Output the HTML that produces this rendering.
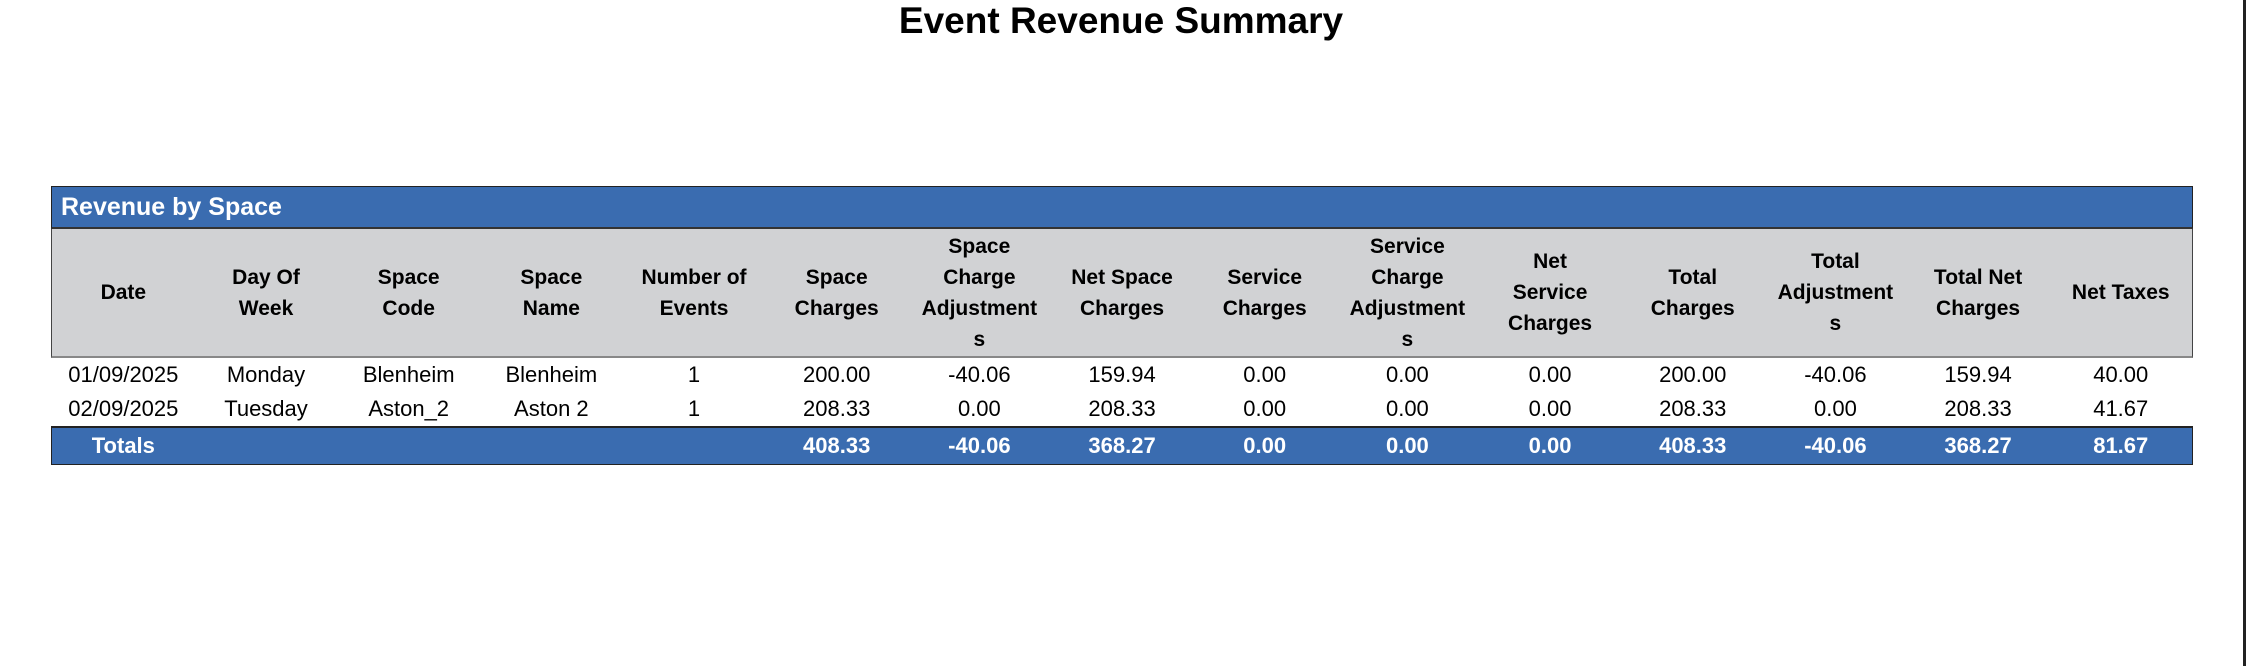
<!DOCTYPE html>
<html><head><meta charset="utf-8"><style>
body{margin:0;width:2246px;height:666px;background:#fff;position:relative;overflow:hidden;font-family:"Liberation Sans",Arial,sans-serif;}
.title{position:absolute;left:0;width:2242px;top:0px;text-align:center;font-weight:bold;font-size:37px;color:#000;}
.vl{position:absolute;left:2243px;top:0;width:3px;height:666px;background:#222;}
.tbl{position:absolute;left:51px;top:186px;width:2142px;}
.band{background:#3a6cb0;color:#fff;font-weight:bold;font-size:25px;height:40px;line-height:40px;padding-left:9px;border:1px solid #222;border-bottom:2px solid #333;}
.row{display:flex;}
.row div{flex:1;text-align:center;}
.hdr{background:#d1d2d4;height:127px;align-items:center;font-weight:bold;font-size:21px;line-height:31px;border-left:1px solid #444;border-right:1px solid #444;border-bottom:2px solid #888;}
.d{height:34px;line-height:34px;font-size:22px;padding:0 1px;}
.tot{background:#3a6cb0;color:#fff;font-weight:bold;font-size:22px;height:36px;line-height:36px;border:1px solid #222;border-top:2px solid #222;}
</style></head><body>
<div class="title">Event Revenue Summary</div>
<div class="vl"></div>
<div class="tbl">
<div class="band">Revenue by Space</div>
<div class="row hdr">
<div>Date</div><div>Day Of<br>Week</div><div>Space<br>Code</div><div>Space<br>Name</div><div>Number of<br>Events</div><div>Space<br>Charges</div><div>Space<br>Charge<br>Adjustment<br>s</div><div>Net Space<br>Charges</div><div>Service<br>Charges</div><div>Service<br>Charge<br>Adjustment<br>s</div><div>Net<br>Service<br>Charges</div><div>Total<br>Charges</div><div>Total<br>Adjustment<br>s</div><div>Total Net<br>Charges</div><div>Net Taxes</div>
</div>
<div class="row d"><div>01/09/2025</div><div>Monday</div><div>Blenheim</div><div>Blenheim</div><div>1</div><div>200.00</div><div>-40.06</div><div>159.94</div><div>0.00</div><div>0.00</div><div>0.00</div><div>200.00</div><div>-40.06</div><div>159.94</div><div>40.00</div></div>
<div class="row d"><div>02/09/2025</div><div>Tuesday</div><div>Aston_2</div><div>Aston 2</div><div>1</div><div>208.33</div><div>0.00</div><div>208.33</div><div>0.00</div><div>0.00</div><div>0.00</div><div>208.33</div><div>0.00</div><div>208.33</div><div>41.67</div></div>
<div class="row tot"><div>Totals</div><div></div><div></div><div></div><div></div><div>408.33</div><div>-40.06</div><div>368.27</div><div>0.00</div><div>0.00</div><div>0.00</div><div>408.33</div><div>-40.06</div><div>368.27</div><div>81.67</div></div>
</div>
</body></html>
